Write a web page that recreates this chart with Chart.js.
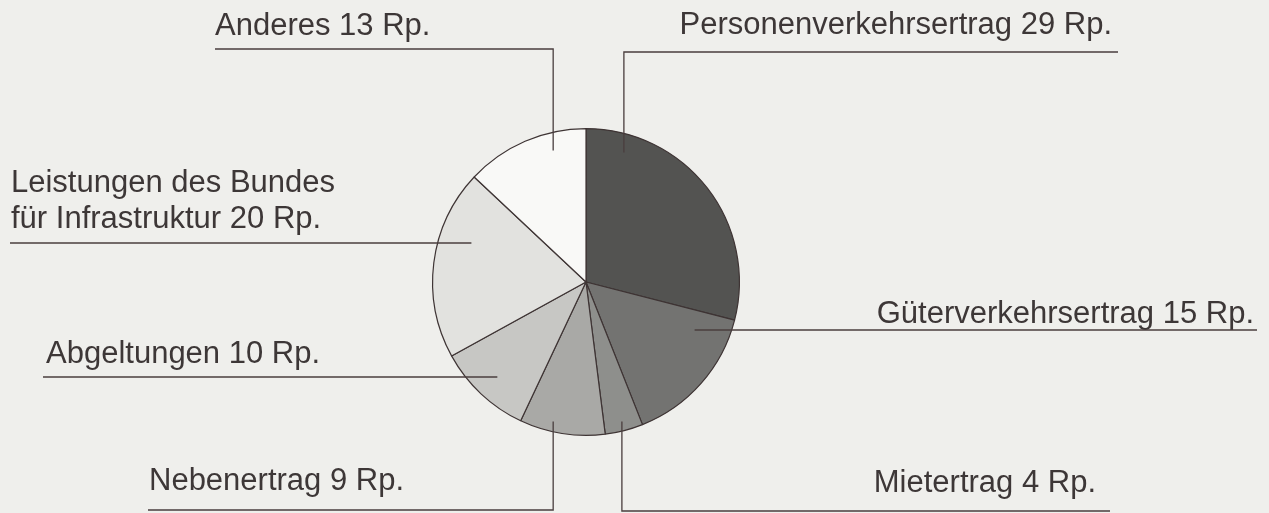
<!DOCTYPE html>
<html>
<head>
<meta charset="utf-8">
<script src="https://cdn.jsdelivr.net/npm/chart.js@4.4.1/dist/chart.umd.min.js"></script>
<style>
  html, body { margin:0; padding:0; background:#efefec; }
  #wrap { width:1269px; height:513px; position:relative; }
</style>
</head>
<body>
<div id="wrap"><canvas id="pie"></canvas></div>
<script>
// Ertrag pro Franken (Rp.)
var names = [
  ['Personenverkehrsertrag'],
  ['Güterverkehrsertrag'],
  ['Mietertrag'],
  ['Nebenertrag'],
  ['Abgeltungen'],
  ['Leistungen des Bundes', 'für Infrastruktur'],
  ['Anderes']
];
var values = [29, 15, 4, 9, 10, 20, 13];
var unit = 'Rp.';
var colours = ['#535351', '#737371', '#8e8f8c', '#a9a9a6', '#c7c7c4', '#e2e2df', '#f9f9f7'];

// where each label sits and where its leader line ends (as a fraction of the pie radius)
var layout = [
  {align:'right', tx:1112, ty:[34],      uy:52,  ux:1118, ax:0.247,  ay:-0.844},
  {align:'right', tx:1254, ty:[323],     uy:330, ux:1257, ax:0.708,  ay:null},
  {align:'right', tx:1096, ty:[492],     uy:511, ux:1110, ax:0.234,  ay:0.909},
  {align:'left',  tx:149,  ty:[490],     uy:510, ux:148,  ax:-0.214, ay:0.909},
  {align:'left',  tx:46,   ty:[363],     uy:377, ux:43,   ax:-0.578, ay:null},
  {align:'left',  tx:11,   ty:[192,228], uy:243, ux:10,   ax:-0.747, ay:null},
  {align:'left',  tx:215,  ty:[35],      uy:49,  ux:215,  ax:-0.214, ay:-0.857}
];

var labelPlugin = {
  id:'leaderLabels',
  afterDraw:function(chart){
    var ctx = chart.ctx;
    var arcs = chart.getDatasetMeta(0).data;
    ctx.save();
    ctx.font = '31px "Liberation Sans", Arial, sans-serif';
    ctx.fillStyle = '#3d3737';
    ctx.strokeStyle = '#4a3e3e';
    ctx.lineWidth = 1.3;
    ctx.textBaseline = 'alphabetic';
    for (var i = 0; i < values.length; i++) {
      var L = layout[i], arc = arcs[i];
      var lines = names[i].slice();
      lines[lines.length-1] += ' ' + values[i] + ' ' + unit;
      ctx.textAlign = L.align;
      for (var k = 0; k < lines.length; k++) ctx.fillText(lines[k], L.tx, L.ty[k]);
      var axp = arc.x + L.ax * arc.outerRadius;
      ctx.beginPath();
      ctx.moveTo(L.ux, L.uy);
      ctx.lineTo(axp, L.uy);
      if (L.ay !== null) ctx.lineTo(axp, arc.y + L.ay * arc.outerRadius);
      ctx.stroke();
    }
    ctx.restore();
  }
};

new Chart(document.getElementById('pie'), {
  type:'pie',
  data:{
    labels: names.map(function(n){ return n.join(' '); }),
    datasets:[{
      data: values,
      backgroundColor: colours,
      borderColor:'#3e3434',
      borderWidth:1.2
    }]
  },
  options:{
    responsive:true,
    maintainAspectRatio:false,
    animation:false,
    layout:{ padding:{ left:432, right:529, top:128, bottom:77 } },
    plugins:{ legend:{display:false}, tooltip:{enabled:false} }
  },
  plugins:[labelPlugin]
});
</script>
</body>
</html>
